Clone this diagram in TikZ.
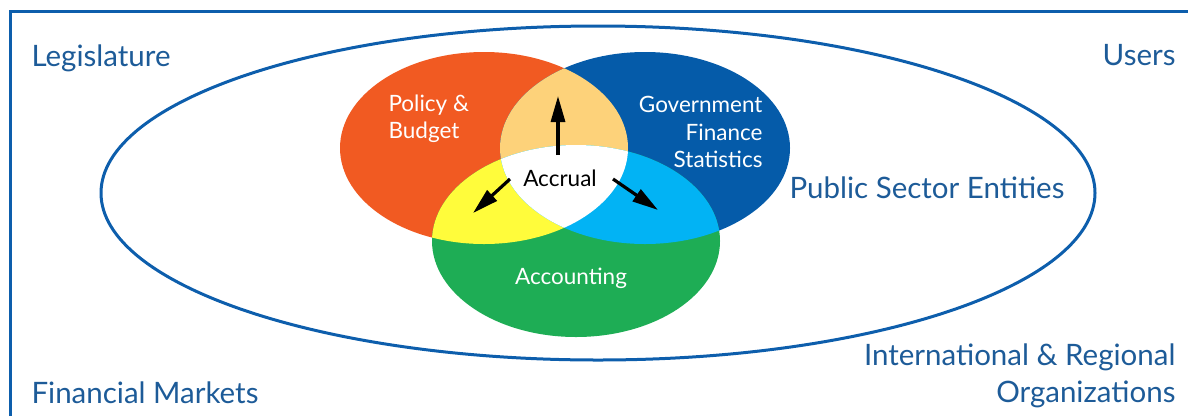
\documentclass[tikz,border=0pt]{standalone}
\usepackage{fontspec}
\setmainfont{Lato}
\usepackage{tikz}
\usetikzlibrary{arrows.meta}
\definecolor{frameblue}{HTML}{0D5EAC}
\definecolor{labelblue}{HTML}{1D5B98}
\definecolor{budgetorange}{HTML}{F15A22}
\definecolor{gfsblue}{HTML}{055BA9}
\definecolor{acctgreen}{HTML}{1EAD55}
\definecolor{overlapcream}{HTML}{FDD27A}
\definecolor{overlapyellow}{HTML}{FFFC3B}
\definecolor{overlapcyan}{HTML}{02B3F4}
\def\budgetlobe{(484,148) ellipse (144 and 96)}
\def\gfslobe{(645,148) ellipse (145 and 96)}
\def\acctlobe{(576,241) ellipse (144 and 96)}

\begin{document}
\begin{tikzpicture}[x=1pt, y=-1pt]
			%%%%% START %%%%%
			
			\useasboundingbox (0,0) rectangle (1188,416);
			
			\draw[line width=3, color=frameblue] (10,416) -- (10,11) -- (1188,11);
			\draw[line width=3, color=frameblue] (598,193) ellipse (497 and 167);
			
			\fill[color=budgetorange] \budgetlobe;
			\fill[color=gfsblue] \gfslobe;
			\fill[color=acctgreen] \acctlobe;
			
			\begin{scope}
				\clip \budgetlobe;
				\fill[color=overlapcream] \gfslobe;
				\fill[color=overlapyellow] \acctlobe;
			\end{scope}
			\begin{scope}
				\clip \gfslobe;
				\fill[color=overlapcyan] \acctlobe;
			\end{scope}
			\begin{scope}
				\clip \budgetlobe;
				\clip \gfslobe;
				\fill[white] \acctlobe;
			\end{scope}
			
			\node[font=\fontsize{29.5}{36.5}\selectfont, text=labelblue, anchor=west] (legislature) at (28,58) {Legislature};
			\node[font=\fontsize{29.5}{36.5}\selectfont, text=labelblue, anchor=east] (users) at (1179,55) {Users};
			\node[font=\fontsize{29.5}{36.5}\selectfont, text=labelblue, anchor=west] (entities) at (786,188) {Public Sector Entities};
			\node[font=\fontsize{29.5}{36.5}\selectfont, text=labelblue, anchor=west] (markets) at (28,393) {Financial Markets};
			\node[font=\fontsize{29.5}{36.5}\selectfont, text=labelblue, anchor=east, align=right] (organizations) at (1179,376) {International \& Regional\\Organizations};
			
			\node[font=\fontsize{22.5}{27.5}\selectfont, text=white, anchor=west, align=left] (budget) at (385,119) {Policy \&\\Budget};
			\node[font=\fontsize{22.5}{27.5}\selectfont, text=white, anchor=east, align=right] (gfs) at (766,132) {Government\\Finance\\Statistics};
			\node[font=\fontsize{22.5}{27.5}\selectfont, text=white] (accounting) at (571,278) {Accounting};
			\node[font=\fontsize{22.5}{27.5}\selectfont, text=black] (accrual) at (560,178) {Accrual};
			
			\coordinate (upstart) at (558,155);
			\coordinate (uptip) at (558,96);
			\coordinate (leftstart) at (510,179);
			\coordinate (lefttip) at (473,213);
			\coordinate (rightstart) at (613,179);
			\coordinate (righttip) at (658,210);
			
			\draw[line width=3.2, -{Triangle[length=26, width=14]}] (upstart) -- (uptip);
			\draw[line width=3.2, -{Triangle[length=26, width=14]}] (leftstart) -- (lefttip);
			\draw[line width=3.2, -{Triangle[length=26, width=14]}] (rightstart) -- (righttip);
			
			%%%%% END %%%%%
		\end{tikzpicture}
\end{document}
